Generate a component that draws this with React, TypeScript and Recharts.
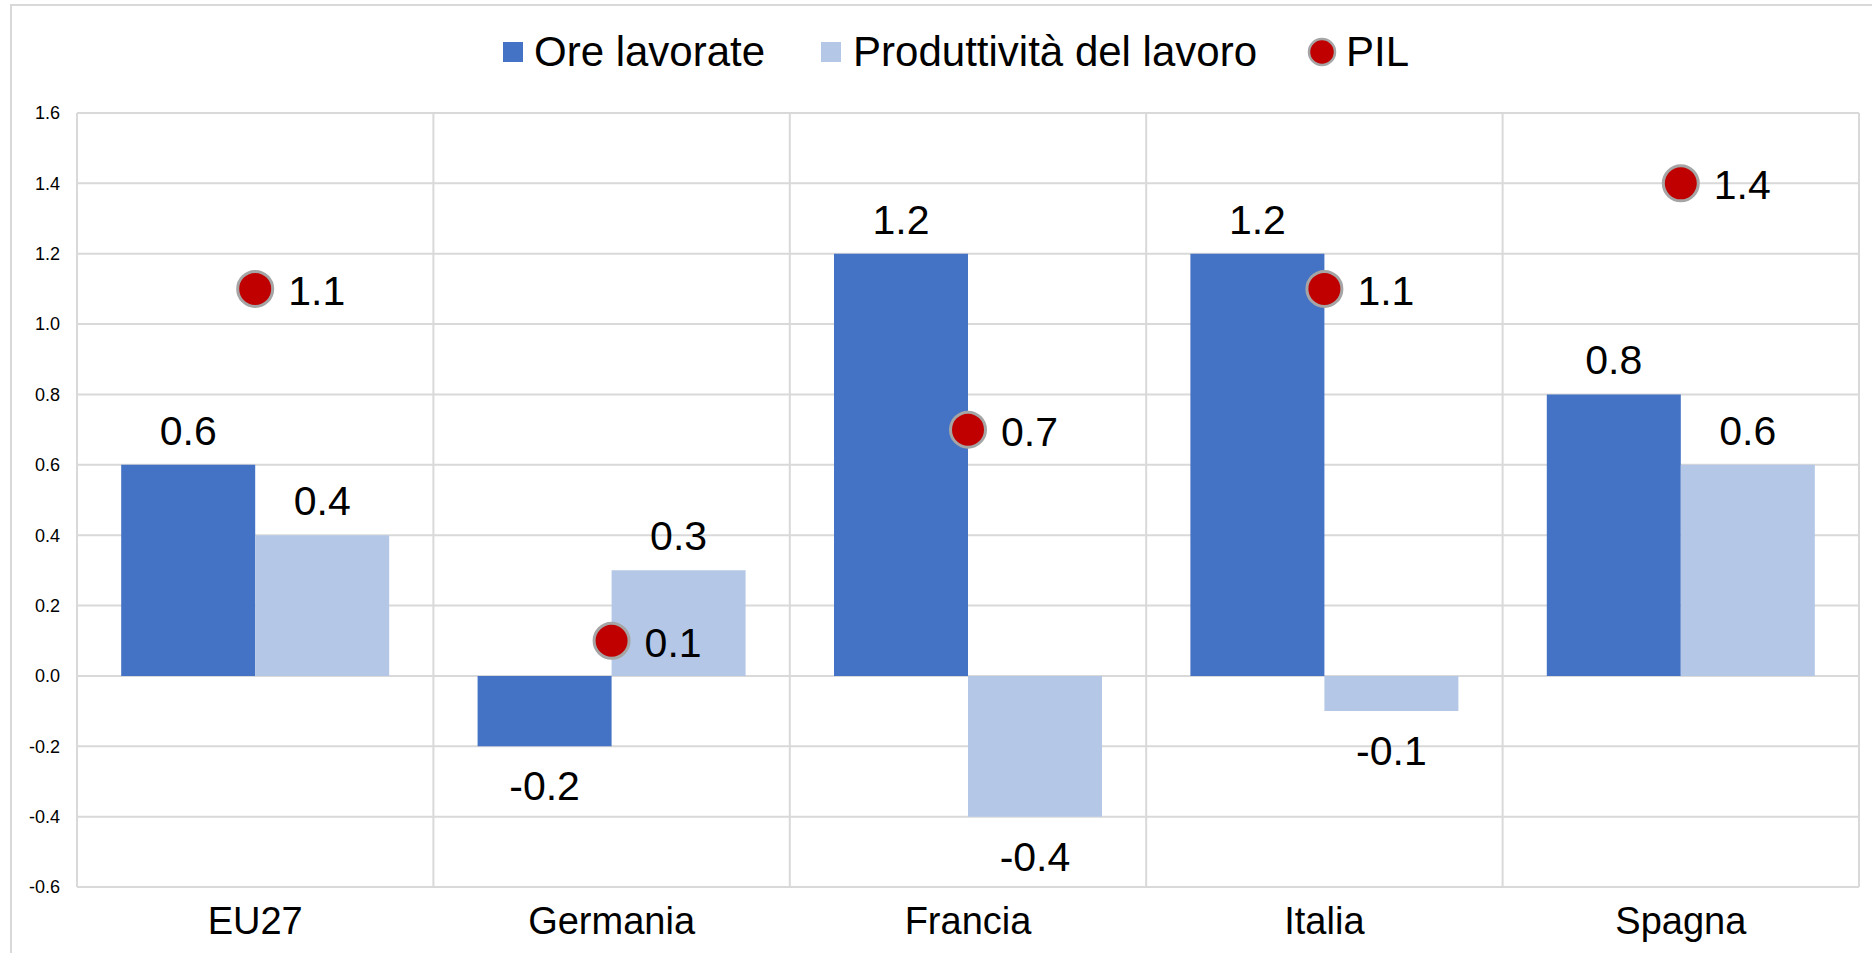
import { Bar, CartesianGrid, ComposedChart, LabelList, Line, XAxis, YAxis } from "recharts";

const CATEGORIES = ["EU27", "Germania", "Francia", "Italia", "Spagna"];
const ORE_LAVORATE = [0.6, -0.2, 1.2, 1.2, 0.8];
const PRODUTTIVITA = [0.4, 0.3, -0.4, -0.1, 0.6];
const PIL = [1.1, 0.1, 0.7, 1.1, 1.4];
const Y_TICKS = [-0.6, -0.4, -0.2, 0, 0.2, 0.4, 0.6, 0.8, 1.0, 1.2, 1.4, 1.6];

const BLUE = "#4472C4";
const LIGHT = "#B4C7E7";
const RED = "#C00000";
const GREY = "#A5A5A5";
const GRID = "#D9D9D9";
const FONT = "'Liberation Sans', Arial, sans-serif";

const data = CATEGORIES.map((name, i) => ({
  name,
  ore: ORE_LAVORATE[i],
  prod: PRODUTTIVITA[i],
  pil: PIL[i],
}));

function BarLabel(props: any) {
  const { x, y, width, height, value } = props;
  const top = Math.min(y, y + height);
  const bottom = Math.max(y, y + height);
  const baseline = value >= 0 ? top - 20 : bottom + 54;
  return (
    <text x={x + width / 2} y={baseline} textAnchor="middle" fontSize={41} fontFamily={FONT} fill="#000">
      {Number(value).toFixed(1)}
    </text>
  );
}

function DotLabel(props: any) {
  const { x, y, value } = props;
  return (
    <text x={x + 33} y={y + 16} textAnchor="start" fontSize={41} fontFamily={FONT} fill="#000">
      {Number(value).toFixed(1)}
    </text>
  );
}

function LegendBar() {
  const text = { fontSize: 42, lineHeight: "42px", fontFamily: FONT, color: "#000", whiteSpace: "nowrap" as const };
  return (
    <div style={{ position: "absolute", left: 503, top: 31, height: 42, display: "flex", alignItems: "center" }}>
      <span style={{ width: 20, height: 20, background: BLUE, marginRight: 11 }} />
      <span style={text}>Ore lavorate</span>
      <span style={{ width: 20, height: 20, background: LIGHT, marginLeft: 56, marginRight: 12 }} />
      <span style={text}>Produttività del lavoro</span>
      <svg width={30} height={30} style={{ marginLeft: 50, marginRight: 9 }}>
        <circle cx={15} cy={15} r={13} fill={RED} stroke={GREY} strokeWidth={2.5} />
      </svg>
      <span style={text}>PIL</span>
    </div>
  );
}

export default function App() {
  return (
    <div style={{ position: "relative", width: 1872, height: 953, overflow: "hidden", background: "#fff" }}>
      <style>{"body{margin:0}"}</style>
      <div
        style={{
          position: "absolute",
          left: 10,
          top: 4,
          width: 2000,
          height: 2000,
          borderLeft: `2px solid ${GRID}`,
          borderTop: `2px solid ${GRID}`,
        }}
      />
      <LegendBar />
      <div style={{ position: "absolute", left: 0, top: 0 }}>
        <ComposedChart
          width={1872}
          height={953}
          data={data}
          margin={{ top: 113, right: 13, bottom: 0, left: 17 }}
          barCategoryGap="12.4%"
          barGap={0}
        >
          <CartesianGrid
            stroke={GRID}
            strokeWidth={2}
            verticalCoordinatesGenerator={({ offset }: any) =>
              CATEGORIES.concat([""]).map((_, i) => offset.left + (i * offset.width) / CATEGORIES.length)
            }
          />
          <XAxis
            dataKey="name"
            axisLine={false}
            tickLine={false}
            height={66}
            tickMargin={14}
            tick={{ fontSize: 38, fontFamily: FONT, fill: "#000" }}
          />
          <YAxis
            domain={[-0.6, 1.6]}
            ticks={Y_TICKS}
            interval={0}
            axisLine={false}
            tickLine={false}
            width={60}
            tickMargin={11}
            tickFormatter={(v: number) => v.toFixed(1)}
            tick={{ fontSize: 18, fontFamily: FONT, fill: "#000" }}
          />
          <Bar dataKey="ore" fill={BLUE} isAnimationActive={false}>
            <LabelList dataKey="ore" content={BarLabel} />
          </Bar>
          <Bar dataKey="prod" fill={LIGHT} isAnimationActive={false}>
            <LabelList dataKey="prod" content={BarLabel} />
          </Bar>
          <Line
            dataKey="pil"
            stroke="none"
            strokeWidth={0}
            dot={{ r: 17.5, fill: RED, stroke: GREY, strokeWidth: 3 }}
            activeDot={false}
            isAnimationActive={false}
          >
            <LabelList dataKey="pil" content={DotLabel} />
          </Line>
        </ComposedChart>
      </div>
    </div>
  );
}
